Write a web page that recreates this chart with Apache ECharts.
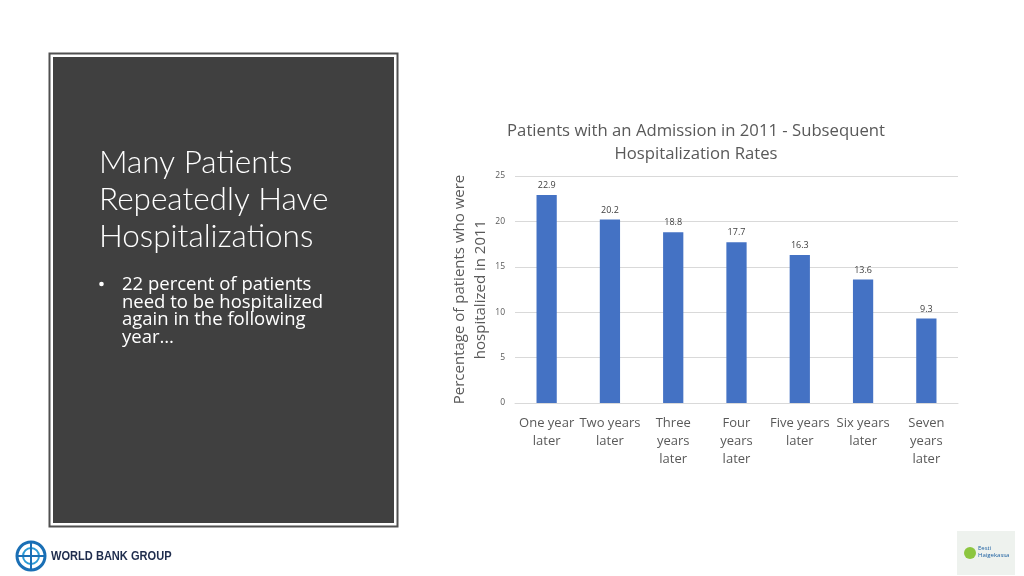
<!DOCTYPE html>
<html><head><meta charset="utf-8">
<script src="https://cdn.jsdelivr.net/npm/echarts@6/dist/echarts.min.js"></script>
<style>html,body{margin:0;padding:0;background:#fff;}#c{width:1024px;height:576px;}</style>
</head><body><div id="c"></div>
<script>
const categories = ["One year\nlater", "Two years\nlater", "Three\nyears\nlater", "Four\nyears\nlater", "Five years\nlater", "Six years\nlater", "Seven\nyears\nlater"];
const values = [22.9, 20.2, 18.8, 17.7, 16.3, 13.6, 9.3];
const yTicks = [0, 5, 10, 15, 20, 25];
const chartTitle = "Patients with an Admission in 2011 - Subsequent\nHospitalization Rates";
const yName = "Percentage of patients who were\nhospitalized in 2011";
const slideTitle = "Many Patients\nRepeatedly Have\nHospitalizations";
const bulletText = "22 percent of patients\nneed to be hospitalized\nagain in the following\nyear…";

const F = "'Open Sans', sans-serif";
const FL = "Lato, 'Open Sans', sans-serif";
const chart = echarts.init(document.getElementById('c'));
chart.setOption({
  backgroundColor: '#ffffff',
  animation: false,
  title: {
    text: chartTitle, left: 691, top: 115, textAlign: 'center',
    textStyle: { fontFamily: F, fontSize: 16.7, fontWeight: 'normal', color: '#595959', lineHeight: 23 }
  },
  grid: { left: 515, right: 66, top: 176, bottom: 173 },
  xAxis: {
    type: 'category', data: categories,
    axisLine: { lineStyle: { color: '#d9d9d9' } },
    axisTick: { show: false },
    axisLabel: { fontFamily: F, fontSize: 13, color: '#595959', lineHeight: 18, margin: 11, interval: 0 }
  },
  yAxis: {
    type: 'value', min: yTicks[0], max: yTicks[yTicks.length - 1], interval: 5,
    name: yName, nameLocation: 'middle', nameGap: 17,
    nameTextStyle: { fontFamily: F, fontSize: 15, color: '#595959', lineHeight: 21 },
    axisLine: { show: false }, axisTick: { show: false },
    axisLabel: { fontFamily: F, fontSize: 8.5, color: '#595959', margin: 10 },
    splitLine: { lineStyle: { color: '#d9d9d9' } }
  },
  series: [{
    type: 'bar', data: values, barWidth: '32%',
    itemStyle: { color: '#4472C4' },
    label: { show: true, position: 'top', distance: 5, fontFamily: F, fontSize: 9, color: '#404040' }
  }],
  graphic: [
    { type: 'rect', shape: { x: 49.5, y: 53.5, width: 348, height: 473 }, style: { fill: '#ffffff', stroke: '#505050', lineWidth: 2 } },
    { type: 'rect', shape: { x: 53, y: 57, width: 341, height: 466 }, style: { fill: '#404040' } },
    { type: 'text', left: 99, top: 144, style: { text: slideTitle, fontFamily: FL, fontSize: 31.5, fontWeight: 300, fill: '#ffffff', lineHeight: 37 } },
    { type: 'circle', shape: { cx: 101.5, cy: 284, r: 2.3 }, style: { fill: '#ffffff' } },
    { type: 'text', left: 122, top: 275, style: { text: bulletText, fontFamily: F, fontSize: 18.5, fill: '#ffffff', lineHeight: 17.8 } },
    // World Bank logo
    { type: 'circle', shape: { cx: 31, cy: 556, r: 14 }, style: { fill: '#ffffff', stroke: '#1a6fb5', lineWidth: 3 } },
    { type: 'circle', shape: { cx: 31, cy: 556, r: 8 }, style: { fill: 'none', stroke: '#2c9bd6', lineWidth: 2 } },
    { type: 'line', shape: { x1: 17, y1: 556, x2: 45, y2: 556 }, style: { stroke: '#1a6fb5', lineWidth: 2 } },
    { type: 'line', shape: { x1: 31, y1: 542, x2: 31, y2: 570 }, style: { stroke: '#1a6fb5', lineWidth: 2 } },
    { type: 'text', x: 51, y: 556, scaleX: 0.82, style: { text: 'WORLD BANK GROUP', fontFamily: "'Liberation Sans', sans-serif", fontSize: 13.5, fontWeight: 'bold', fill: '#1f2d4d', verticalAlign: 'middle' } },
    // Haigekassa logo
    { type: 'rect', shape: { x: 957, y: 531, width: 58, height: 44 }, style: { fill: '#eef2ee' } },
    { type: 'circle', shape: { cx: 970, cy: 553, r: 6 }, style: { fill: '#8cc63f' } },
    { type: 'text', left: 978, top: 545, style: { text: 'Eesti\nHaigekassa', fontFamily: F, fontSize: 6, fill: '#1a5fa0', lineHeight: 7 } }
  ]
});
</script>
</body></html>
